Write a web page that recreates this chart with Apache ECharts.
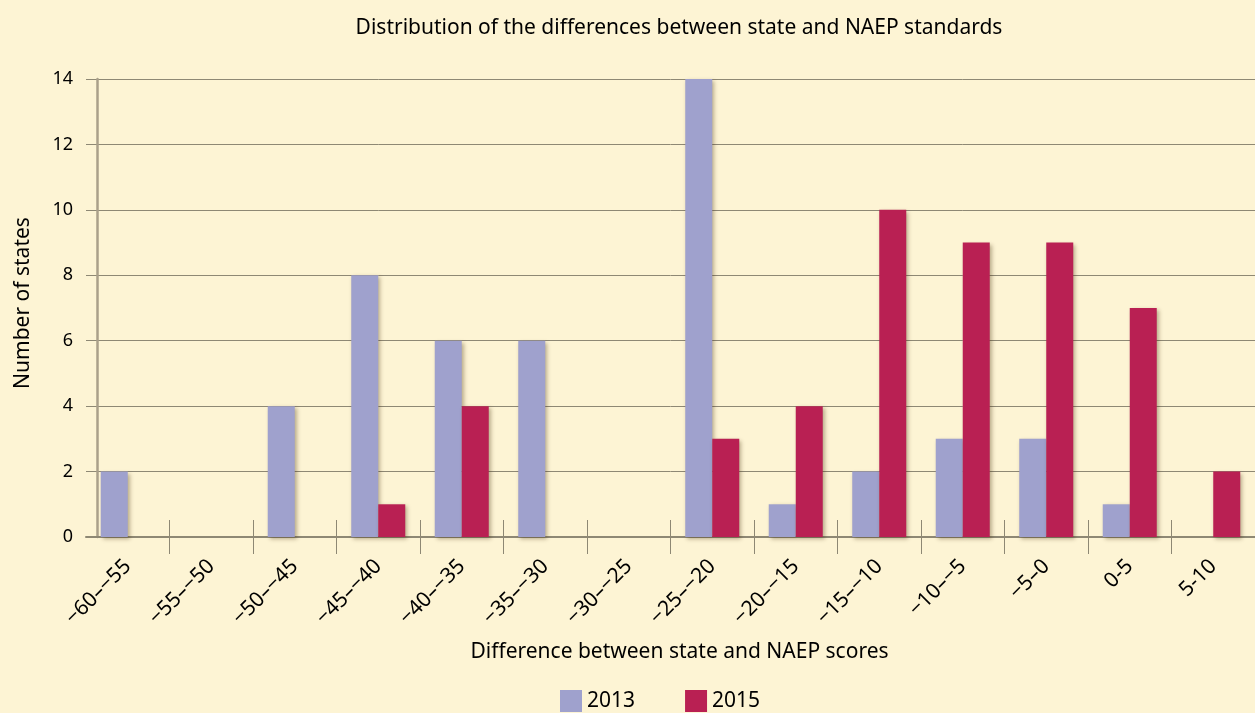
<html>

<head>
    <title>chart</title>
    <script src="https://cdn.jsdelivr.net/npm/echarts@6/dist/echarts.min.js"></script>
</head>

<body style="margin:0;background:#fdf4d4;">
    <div id="barChart" style="width:1255px;height:713px;"></div>
    <script>
        var categories = ["−60–−55", "−55–−50", "−50–−45", "−45–−40", "−40–−35", "−35–−30", "−30–−25",
            "−25–−20", "−20–−15", "−15–−10", "−10–−5", "−5–0", "0-5", "5-10"];
        var values2013 = [2, 0, 4, 8, 6, 6, 0, 14, 1, 2, 3, 3, 1, 0];
        var values2015 = [0, 0, 0, 1, 4, 0, 0, 3, 4, 10, 9, 9, 7, 2];
        var yTicks = { min: 0, max: 14, interval: 2 };

        var font = "'Noto Sans', sans-serif";
        var axisColor = '#8e8874';
        // the first boundary sits under the y axis, no tick there
        var skipFirst = function(index) { return index !== 0; };

        var shadow = {
            shadowBlur: 4,
            shadowOffsetX: 2,
            shadowOffsetY: 2,
            shadowColor: 'rgba(60,40,0,0.35)'
        };

        var barChart = echarts.init(document.getElementById('barChart'));
        var option = {
            backgroundColor: '#fdf4d4',
            animation: false,
            textStyle: { fontFamily: font, color: '#111' },
            title: {
                text: 'Distribution of the differences between state and NAEP standards',
                left: 674,
                textAlign: 'center',
                top: 13,
                textStyle: { fontFamily: font, fontSize: 21, fontWeight: 'normal', color: '#000' }
            },
            legend: {
                data: ['2013', '2015'],
                left: 560,
                top: 690,
                padding: 0,
                itemWidth: 22,
                itemHeight: 22,
                itemGap: 50,
                icon: 'rect',
                textStyle: { fontFamily: font, fontSize: 21, color: '#000' }
            },
            grid: { left: 86, top: 79, width: 1176, height: 458 },
            xAxis: [{
                type: 'category',
                data: categories,
                name: 'Difference between state and NAEP scores',
                nameLocation: 'middle',
                nameGap: 105,
                nameTextStyle: { fontFamily: font, fontSize: 21, color: '#000', padding: [0, 0, 0, 18] },
                axisLine: { lineStyle: { color: axisColor, width: 2 } },
                axisTick: { show: true, length: 17, interval: skipFirst, lineStyle: { color: axisColor } },
                axisLabel: { rotate: 45, margin: 26, fontSize: 21, color: '#000', fontFamily: font, interval: 0 }
            }, {
                type: 'category',
                data: categories,
                position: 'bottom',
                axisLine: { show: false },
                axisLabel: { show: false },
                axisTick: { show: true, inside: true, length: 17, interval: skipFirst, lineStyle: { color: axisColor } }
            }],
            yAxis: {
                type: 'value',
                min: yTicks.min,
                max: yTicks.max,
                interval: yTicks.interval,
                offset: -11,
                name: 'Number of states',
                nameLocation: 'middle',
                nameGap: 63,
                nameTextStyle: { fontFamily: font, fontSize: 21, color: '#000', padding: [0, 0, 0, 10] },
                axisLine: { show: true, lineStyle: { color: '#aaa08a', width: 2.5 } },
                axisTick: { show: false },
                axisLabel: { margin: 24, fontSize: 18, color: '#000', fontFamily: font },
                splitLine: { lineStyle: { color: '#8e8874', width: 1 } }
            },
            series: [{
                name: '2013',
                type: 'bar',
                data: values2013,
                barWidth: 27,
                barGap: '0%',
                itemStyle: Object.assign({ color: '#9fa1cd' }, shadow)
            }, {
                name: '2015',
                type: 'bar',
                data: values2015,
                barWidth: 27,
                itemStyle: Object.assign({ color: '#b92053' }, shadow)
            }]
        };
        barChart.setOption(option);
    </script>
</body>

</html>
